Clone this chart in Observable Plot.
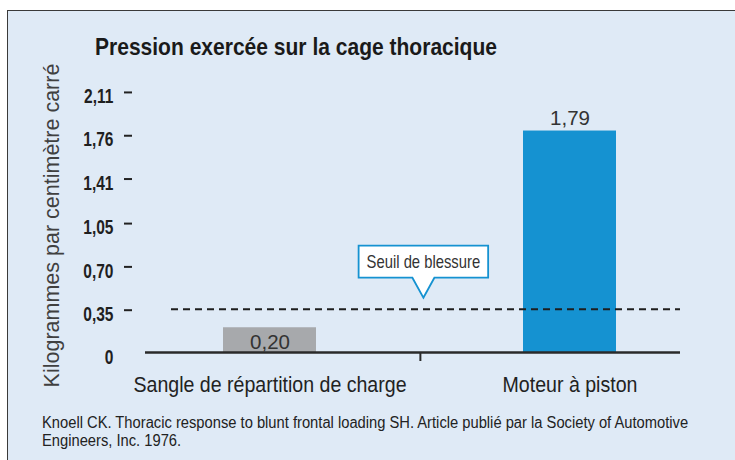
<!DOCTYPE html>
<html>
<head>
<meta charset="utf-8">
<script src="https://cdn.jsdelivr.net/npm/d3@7"></script>
<script src="https://cdn.jsdelivr.net/npm/@observablehq/plot@0.6"></script>
<style>
  html, body { margin: 0; padding: 0; background: #fff; }
  #wrap { position: relative; width: 735px; height: 460px; overflow: hidden; background: #fff; }
  #panel { position: absolute; left: 7px; top: 10px; width: 740px; height: 460px; background: #dfeaf6;
           border-left: 1.5px solid #3a3a3a; border-top: 1.5px solid #3a3a3a; }
  #title { position: absolute; left: 95px; top: 34.7px; font-family: 'Liberation Sans', Arial, sans-serif;
           font-weight: bold; font-size: 24px; line-height: 24px; color: #1a1a1a; white-space: nowrap;
           transform: scaleX(0.876); transform-origin: 0 0; }
  #chart { position: absolute; left: 0; top: 0; }
  #caption { position: absolute; left: 42px; top: 414px; font-family: 'Liberation Sans', Arial, sans-serif;
             font-size: 16px; line-height: 18px; color: #222; white-space: nowrap;
             transform: scaleX(0.92); transform-origin: 0 0; }
</style>
</head>
<body>
<div id="wrap">
  <div id="panel"></div>
  <div id="title"></div>
  <div id="chart"></div>
  <div id="caption"></div>
</div>
<script>
// ---- data ----
const categories = ["Sangle de répartition de charge", "Moteur à piston"];
const values = [0.20, 1.79];
const valueLabels = ["0,20", "1,79"];
const barColors = ["#a7a9ac", "#1592d1"];
const tickValues = [0, 0.35, 0.70, 1.05, 1.41, 1.76, 2.11];
const tickLabels = ["0", "0,35", "0,70", "1,05", "1,41", "1,76", "2,11"];
const threshold = 0.35;
const thresholdLabel = "Seuil de blessure";
const yLabel = "Kilogrammes par centimètre carré";
const titleText = "Pression exercée sur la cage thoracique";
const captionLines = [
  "Knoell CK. Thoracic response to blunt frontal loading SH. Article publié par la Society of Automotive",
  "Engineers, Inc. 1976."
];

// ---- build ----
const rows = categories.map((c, i) => ({cat: c, value: values[i], label: valueLabels[i]}));
const FONT = "'Liberation Sans', Arial, sans-serif";
const fmt = v => tickLabels[tickValues.indexOf(v)];

const frameL = 145, frameR = 680;
const insetL = 77.5, insetR = 63.5, padIn = 0.69;
const step = (frameR - frameL - insetL - insetR) / (categories.length - padIn);

// callout (annotation box with pointer) drawn from the scales
const calloutFont = 18.5, calloutSqueeze = 0.8, calloutPad = 8, calloutH = 32, pointerH = 20, pointerW = 11;
function callout(index, scales) {
  const ctx = document.createElement("canvas").getContext("2d");
  ctx.font = `${calloutFont}px 'Liberation Sans'`;
  const tw = ctx.measureText(thresholdLabel).width * calloutSqueeze;
  const w = tw + 2 * calloutPad;
  const cx = scales.x(categories[0]) + scales.x.bandwidth() / 2 + step / 2 + 3.5;
  const ty = scales.y(threshold) - 11;
  const g = d3.create("svg:g").attr("aria-label", "callout");
  g.append("path")
    .attr("d", `M${cx},${ty}l${pointerW},${-pointerH}h${w / 2 - pointerW}v${-calloutH}h${-w}v${calloutH}h${w / 2 - pointerW}z`)
    .attr("fill", "white").attr("stroke", "#1592d1").attr("stroke-width", 1.8);
  g.append("text")
    .attr("transform", `translate(${cx},${ty - pointerH - calloutH / 2}) scale(${calloutSqueeze},1)`)
    .attr("text-anchor", "middle").attr("dy", "0.35em")
    .attr("font-family", FONT).attr("font-size", calloutFont).attr("fill", "#333")
    .text(thresholdLabel);
  return g.node();
}

const chart = Plot.plot({
  width: 735,
  height: 400,
  marginLeft: frameL,
  marginRight: 735 - frameR,
  marginTop: 60,
  marginBottom: 48,
  style: {background: "transparent", color: "#222", fontFamily: FONT, overflow: "visible"},
  x: {type: "band", domain: categories, paddingInner: padIn, paddingOuter: 0, insetLeft: insetL, insetRight: insetR, axis: null},
  y: {domain: [0, 2.36], axis: null},
  color: {domain: categories, range: barColors},
  marks: [
    Plot.barY(rows, {x: "cat", y: "value", fill: "cat"}),
    Plot.ruleY([threshold], {stroke: "#1e1e1e", strokeWidth: 2, strokeDasharray: "7,5", insetLeft: 26}),
    Plot.ruleY([0], {stroke: "#2a2a2a", strokeWidth: 2.5}),
    // value labels
    Plot.text(rows.filter(d => d.value >= 1), {x: "cat", y: "value", text: "label", lineAnchor: "bottom", dy: -6,
      fontSize: 20.5, fill: "#333", ariaLabel: "value label"}),
    Plot.text(rows.filter(d => d.value < 1), {x: "cat", y: () => 0, text: "label", lineAnchor: "bottom", dy: -4,
      fontSize: 20.5, fill: "#333", ariaLabel: "value label"}),
    // y axis ticks (no tick at zero)
    Plot.axisY(tickValues.filter(v => v > 0), {tickSize: 8, dx: -13, dy: 1, fill: "none", stroke: "#222", strokeWidth: 2, label: null}),
    // y axis labels
    Plot.axisY(tickValues, {tickSize: 0, tickPadding: 19, dx: -13, dy: 5, tickFormat: fmt, fontSize: 21, fontWeight: "bold", fill: "#1f1f1f", label: null}),
    // x axis category labels
    Plot.axisX({tickSize: 0, tickPadding: 24, fontSize: 22, fill: "#222", label: null}),
    // x axis separator tick between the categories
    Plot.axisX([categories[0]], {tickSize: 9, dx: step / 2, fill: "none", stroke: "#2a2a2a", strokeWidth: 2, label: null}),
    // y axis title
    Plot.text([yLabel], {frameAnchor: "left", rotate: -90, textAnchor: "middle", lineAnchor: "bottom", dx: -87, dy: 19,
      fontSize: 21.5, fill: "#404040", ariaLabel: "y title"}),
    callout
  ]
});

// condensed look for the Helvetica-Condensed style labels
function squeeze(groupLabel, k) {
  chart.querySelectorAll(`g[aria-label="${groupLabel}"] text`).forEach(t => {
    let tr = t.getAttribute("transform") || "";
    const x = t.getAttribute("x");
    if (x && !isNaN(+x)) { tr = `${tr} translate(${x},0)`; t.removeAttribute("x"); }
    t.setAttribute("transform", `${tr} scale(${k},1)`);
  });
}
squeeze("y-axis tick label", 0.74);
squeeze("x-axis tick label", 0.89);
squeeze("value label", 0.93);

document.getElementById("chart").appendChild(chart);
document.getElementById("title").textContent = titleText;
const cap = document.getElementById("caption");
captionLines.forEach((l, i) => { if (i) cap.appendChild(document.createElement("br")); cap.appendChild(document.createTextNode(l)); });
</script>
</body>
</html>
